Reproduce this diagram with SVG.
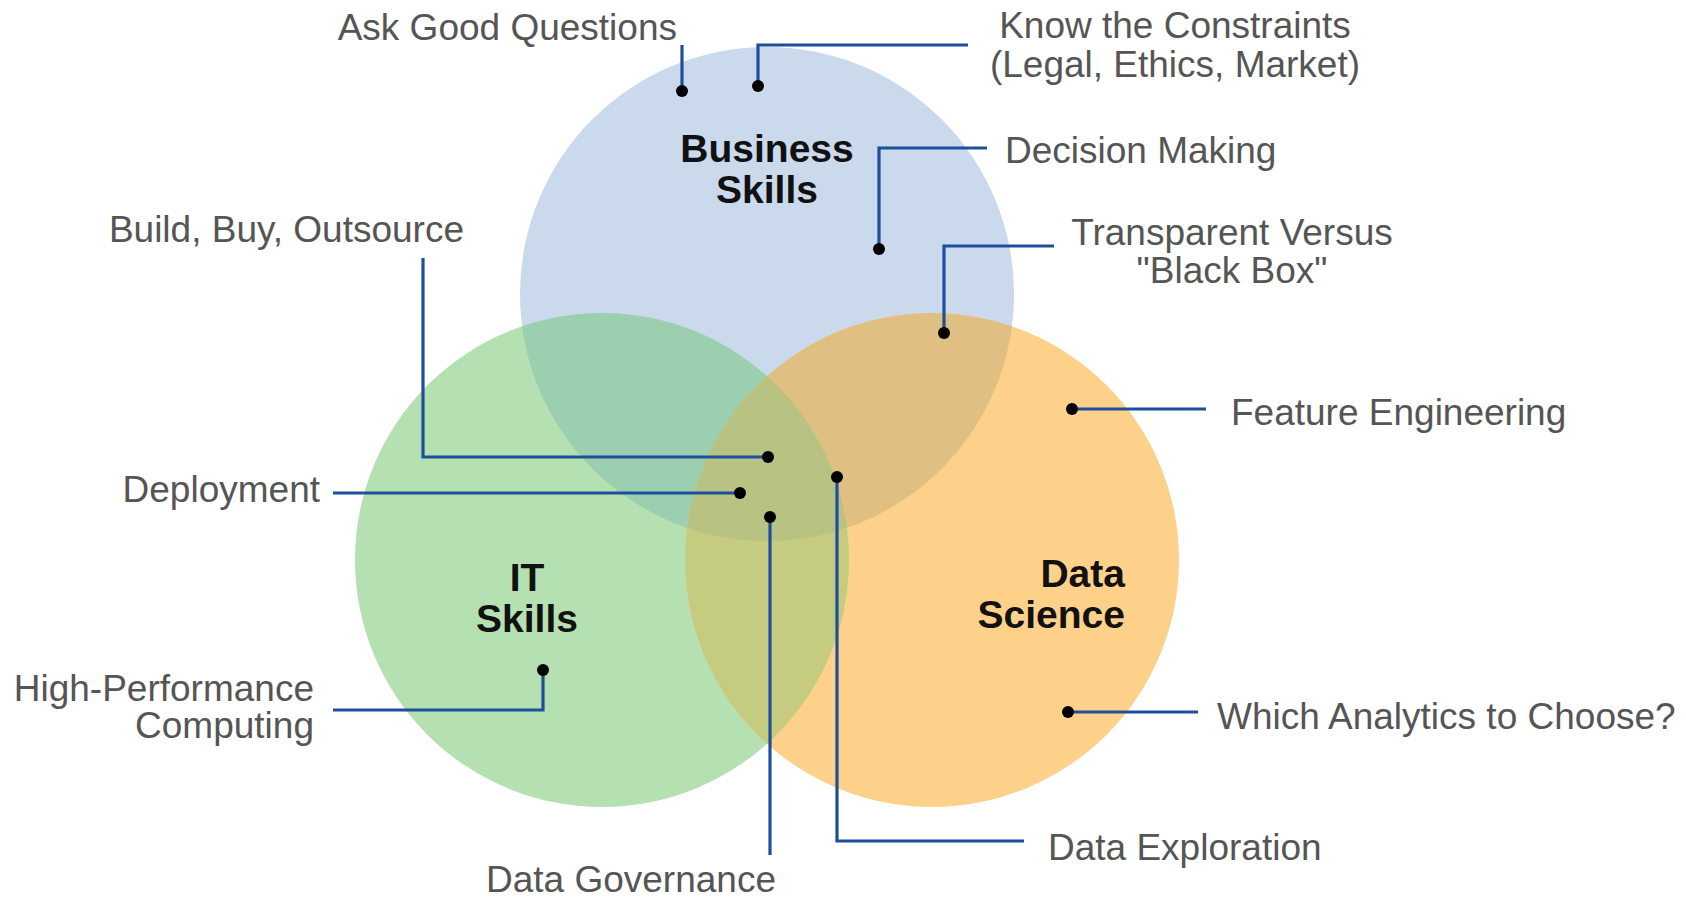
<svg xmlns="http://www.w3.org/2000/svg" width="1686" height="897" viewBox="0 0 1686 897">
<style>
.lbl{font-family:"Liberation Sans",Arial,sans-serif;font-size:37px;fill:#555555}
.ttl{font-family:"Liberation Sans",Arial,sans-serif;font-size:39px;font-weight:bold;fill:#111111}
.con{fill:none;stroke:#1d4f9c;stroke-width:3.2}
.dot{fill:#000000}
</style>
<defs>
<clipPath id="cB"><circle cx="767" cy="294" r="247"/></clipPath>
<clipPath id="cG"><circle cx="602" cy="560" r="247"/></clipPath>
<clipPath id="cO"><circle cx="932" cy="560" r="247"/></clipPath>
</defs>
<rect width="1686" height="897" fill="#ffffff"/>
<g id="business-skills">
<circle cx="767" cy="294" r="247" fill="#cad9eb"/>
</g>
<g id="it-skills">
<circle cx="602" cy="560" r="247" fill="#b5e0b2"/>
</g>
<g id="data-science">
<circle cx="932" cy="560" r="247" fill="#fdd189"/>
</g>
<g id="overlaps">
<g clip-path="url(#cB)"><circle cx="602" cy="560" r="247" fill="#9ccfaf"/></g>
<g clip-path="url(#cB)"><circle cx="932" cy="560" r="247" fill="#dfc082"/></g>
<g clip-path="url(#cG)"><circle cx="932" cy="560" r="247" fill="#c5cc80"/></g>
<g clip-path="url(#cG)"><g clip-path="url(#cB)"><circle cx="932" cy="560" r="247" fill="#b8c282"/></g></g>
</g>
<g id="circle-titles">
<text class="ttl" x="767" y="162" text-anchor="middle">Business</text>
<text class="ttl" x="767" y="203" text-anchor="middle">Skills</text>
<text class="ttl" x="527" y="591" text-anchor="middle">IT</text>
<text class="ttl" x="527" y="632" text-anchor="middle">Skills</text>
<text class="ttl" x="1125" y="587" text-anchor="end">Data</text>
<text class="ttl" x="1125" y="628" text-anchor="end">Science</text>
</g>
<g id="connectors">
<polyline class="con" points="682,45 682,91"/>
<polyline class="con" points="758,86 758,45 968,45"/>
<polyline class="con" points="879,249 879,148 987,148"/>
<polyline class="con" points="944,333 944,246 1054,246"/>
<polyline class="con" points="1072,409 1206,409"/>
<polyline class="con" points="1068,712 1198,712"/>
<polyline class="con" points="837,477 837,841 1024,841"/>
<polyline class="con" points="770,517 770,855"/>
<polyline class="con" points="543,670 543,710 333,710"/>
<polyline class="con" points="333,493 740,493"/>
<polyline class="con" points="423,258 423,457 768,457"/>
<circle class="dot" cx="682" cy="91" r="6"/>
<circle class="dot" cx="758" cy="86" r="6"/>
<circle class="dot" cx="879" cy="249" r="6"/>
<circle class="dot" cx="944" cy="333" r="6"/>
<circle class="dot" cx="1072" cy="409" r="6"/>
<circle class="dot" cx="1068" cy="712" r="6"/>
<circle class="dot" cx="837" cy="477" r="6"/>
<circle class="dot" cx="770" cy="517" r="6"/>
<circle class="dot" cx="543" cy="670" r="6"/>
<circle class="dot" cx="740" cy="493" r="6"/>
<circle class="dot" cx="768" cy="457" r="6"/>
</g>
<g id="label-ask"><text class="lbl" x="677" y="40" text-anchor="end">Ask Good Questions</text></g>
<g id="label-constraints"><text class="lbl" x="1175" y="38" text-anchor="middle">Know the Constraints</text><text class="lbl" x="1175" y="77" text-anchor="middle">(Legal, Ethics, Market)</text></g>
<g id="label-decision"><text class="lbl" x="1005" y="163">Decision Making</text></g>
<g id="label-transparent"><text class="lbl" x="1232" y="245" text-anchor="middle">Transparent Versus</text><text class="lbl" x="1232" y="283" text-anchor="middle">"Black Box"</text></g>
<g id="label-feature"><text class="lbl" x="1231" y="425">Feature Engineering</text></g>
<g id="label-analytics"><text class="lbl" x="1217" y="729">Which Analytics to Choose?</text></g>
<g id="label-exploration"><text class="lbl" x="1048" y="860">Data Exploration</text></g>
<g id="label-governance"><text class="lbl" x="486" y="892">Data Governance</text></g>
<g id="label-hpc"><text class="lbl" x="314" y="701" text-anchor="end">High-Performance</text><text class="lbl" x="314" y="738" text-anchor="end">Computing</text></g>
<g id="label-deployment"><text class="lbl" x="320" y="502" text-anchor="end">Deployment</text></g>
<g id="label-build"><text class="lbl" x="464" y="242" text-anchor="end">Build, Buy, Outsource</text></g>
</svg>
